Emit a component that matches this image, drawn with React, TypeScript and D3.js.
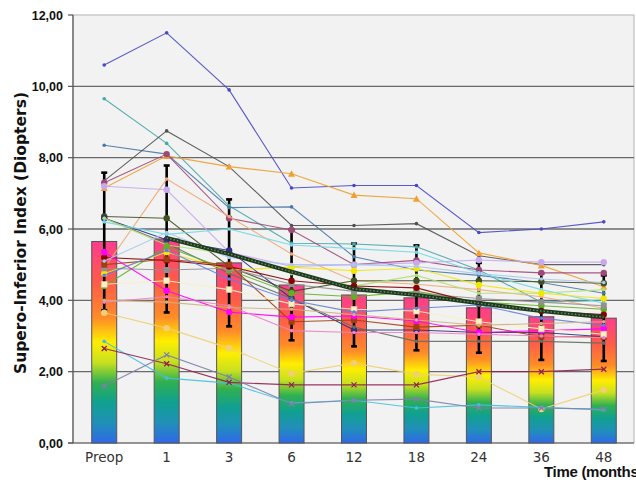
import React from "react";
import * as d3 from "d3";

const months = ["Preop", "1", "3", "6", "12", "18", "24", "36", "48"];
const meanValues = [5.65, 5.72, 5.05, 4.43, 4.15, 4.07, 3.79, 3.54, 3.5];
const sdValues = [1.93, 2.06, 1.78, 1.55, 1.44, 1.47, 1.26, 1.21, 1.2];
const trendValues = [null, 5.75, 5.3, 4.8, 4.32, 4.15, 3.92, 3.7, 3.53];
const yTicks = [0, 2, 4, 6, 8, 10, 12];

type Patient = { color: string; marker: string; values: number[] };

const patients: Patient[] = [
  { color: "#4848c8", marker: "dot", values: [10.6, 11.5, 9.9, 7.15, 7.22, 7.22, 5.9, 6.0, 6.2] },
  { color: "#48a8a8", marker: "dot", values: [9.65, 8.4, 6.65, 5.6, 5.58, 5.5, 4.85, 3.95, 4.0] },
  { color: "#4a78a8", marker: "dot", values: [8.35, 8.1, 6.6, 6.62, 5.22, 4.85, 4.7, 4.5, 4.2] },
  { color: "#505050", marker: "dot", values: [7.35, 8.75, 7.75, 6.1, 6.1, 6.15, 5.25, 5.0, 5.0] },
  { color: "#f0a030", marker: "tri", values: [7.15, 8.05, 7.75, 7.55, 6.95, 6.85, 5.33, 4.98, 4.38] },
  { color: "#a04878", marker: "circle", values: [7.3, 8.1, 6.3, 5.97, 5.0, 5.12, 4.85, 4.77, 4.77] },
  { color: "#c8a8f0", marker: "circle", values: [7.2, 7.1, 5.35, 4.95, 5.0, 5.05, 5.13, 5.07, 5.07] },
  { color: "#f0a878", marker: "dot", values: [4.9, 7.4, 6.35, 5.3, 4.55, 4.45, 4.3, 4.1, 3.78] },
  { color: "#405020", marker: "circle", values: [6.35, 6.3, 4.95, 4.25, 4.55, 4.55, 4.55, 4.52, 4.48] },
  { color: "#303080", marker: "circle", values: [6.3, 5.7, 5.4, 4.05, 3.17, 3.17, 3.1, 3.1, 2.98] },
  { color: "#607060", marker: "dot", values: [6.3, 5.6, 4.75, 4.05, 3.25, 2.85, 2.85, 2.85, 2.8] },
  { color: "#70d8e8", marker: "dot", values: [6.2, 5.85, 6.0, 5.55, 5.45, 5.35, 4.77, 4.3, 3.92] },
  { color: "#b0e070", marker: "dot", values: [6.3, 5.55, 5.3, 4.75, 4.4, 4.7, 4.2, 4.2, 4.3] },
  { color: "#f0e800", marker: "circle", values: [4.75, 5.35, 4.85, 4.93, 4.83, 4.9, 4.43, 4.2, 4.05] },
  { color: "#60b020", marker: "circle", values: [4.4, 5.5, 4.85, 4.2, 4.1, 4.25, 3.95, 3.85, 3.75] },
  { color: "#909090", marker: "square", values: [4.9, 4.85, 4.9, 4.45, 4.25, 4.2, 4.05, 3.95, 3.85] },
  { color: "#8b0000", marker: "circle", values: [5.2, 5.12, 4.95, 4.55, 4.4, 4.35, 3.9, 3.7, 3.6] },
  { color: "#a04010", marker: "square", values: [5.0, 5.15, 5.0, 3.4, 3.45, 3.25, 3.3, 2.98, 2.98] },
  { color: "#ff00ff", marker: "circle", values: [5.35, 4.27, 3.67, 3.53, 3.56, 3.42, 3.1, 3.15, 3.2] },
  { color: "#f8f0c0", marker: "square", values: [4.45, 4.55, 4.3, 3.9, 3.75, 3.7, 3.4, 3.2, 3.05] },
  { color: "#f080c8", marker: "dot", values: [3.95, 4.1, 3.85, 3.15, 3.1, 3.1, 3.05, 3.0, 2.95] },
  { color: "#6080e0", marker: "dot", values: [4.7, 5.4, 4.6, 4.0, 3.67, 3.78, 3.87, 3.5, 3.3] },
  { color: "#f0d070", marker: "circle", values: [3.65, 3.22, 2.66, 1.95, 2.24, 1.93, 1.85, 0.95, 1.49] },
  { color: "#40c0e0", marker: "dot", values: [2.85, 1.82, 1.68, 1.12, 1.2, 0.98, 1.07, 1.0, 0.93] },
  { color: "#902050", marker: "x", values: [2.65, 2.22, 1.7, 1.63, 1.63, 1.63, 2.0, 2.0, 2.07] },
  { color: "#8080a8", marker: "x", values: [1.6, 2.47, 1.85, 1.1, 1.2, 1.23, 0.98, 0.98, 0.95] },
  { color: "#a8c8f0", marker: "dot", values: [5.1, 5.9, 5.2, 5.0, 5.0, 4.95, 4.75, 4.6, 4.5] },
  { color: "#d0b080", marker: "dot", values: [4.0, 3.95, 3.8, 3.75, 3.6, 3.45, 3.3, 3.35, 3.4] },
];

const W = 636;
const H = 480;
const left = 73;
const right = 634;
const top = 15;
const bottom = 443;

export default function App() {
  const x = d3.scaleBand<string>().domain(months).range([left, right + 1]).paddingInner(0.6).paddingOuter(0.3);
  const y = d3.scaleLinear().domain([0, 12]).range([bottom, top]);
  const cx = (m: string) => (x(m) as number) + x.bandwidth() / 2;
  const line = d3
    .line<number>()
    .x((_, i) => cx(months[i]))
    .y((v) => y(v));
  const trendLine = d3
    .line<number | null>()
    .defined((v) => v !== null)
    .x((_, i) => cx(months[i]))
    .y((v) => y(v as number));

  const marker = (p: Patient, v: number, i: number) => {
    const px = cx(months[i]);
    const py = y(v);
    const key = `${i}`;
    if (p.marker === "square")
      return <rect key={key} x={px - 3} y={py - 3} width={6} height={6} fill={p.color} stroke={p.color === "#f8f0c0" ? "#c8c0a0" : "none"} strokeWidth={0.6} />;
    if (p.marker === "tri")
      return <path key={key} d={`M${px},${py - 3.5}L${px + 3.5},${py + 3}L${px - 3.5},${py + 3}Z`} fill={p.color} />;
    if (p.marker === "x")
      return (
        <g key={key} stroke={p.color} strokeWidth={1.3}>
          <line x1={px - 2.5} y1={py - 2.5} x2={px + 2.5} y2={py + 2.5} />
          <line x1={px - 2.5} y1={py + 2.5} x2={px + 2.5} y2={py - 2.5} />
        </g>
      );
    if (p.marker === "circle") return <circle key={key} cx={px} cy={py} r={3.2} fill={p.color} />;
    return <circle key={key} cx={px} cy={py} r={1.8} fill={p.color} />;
  };

  return (
    <svg width={W} height={H} style={{ position: "absolute", left: 0, top: 0, background: "#fff" }}>
      <defs>
        <linearGradient id="barGrad" x1="0" y1="0" x2="0" y2="1">
          <stop offset="0" stopColor="#ff3d8e" />
          <stop offset="0.2" stopColor="#ff5a4a" />
          <stop offset="0.38" stopColor="#ff8c28" />
          <stop offset="0.5" stopColor="#ffee00" />
          <stop offset="0.6" stopColor="#c8e020" />
          <stop offset="0.7" stopColor="#30b050" />
          <stop offset="0.8" stopColor="#10a090" />
          <stop offset="0.9" stopColor="#2090b8" />
          <stop offset="1" stopColor="#3068e8" />
        </linearGradient>
      </defs>
      <rect x={left} y={top} width={right - left} height={bottom - top} fill="#f2f2f2" stroke="#b4b4b4" strokeWidth={1} />
      {yTicks.slice(1, -1).map((t) => (
        <line key={t} x1={left} x2={right} y1={y(t)} y2={y(t)} stroke="#6a6a6a" strokeWidth={1.4} />
      ))}
      <line x1={left} x2={left} y1={top} y2={bottom} stroke="#555" strokeWidth={1.2} />
      <line x1={left - 5} x2={right} y1={bottom} y2={bottom} stroke="#555" strokeWidth={1.2} />
      {yTicks.map((t) => (
        <g key={t}>
          <line x1={left - 5} x2={left} y1={y(t)} y2={y(t)} stroke="#555" strokeWidth={1.2} />
          <text x={63} y={y(t) + 4.5} textAnchor="end" fontFamily="Liberation Sans, Arial, sans-serif" fontWeight="bold" fontSize={12.5} fill="#111">
            {t.toFixed(2).replace(".", ",")}
          </text>
        </g>
      ))}
      {months.map((m) => (
        <text key={m} x={cx(m)} y={462} textAnchor="middle" fontFamily="DejaVu Sans, sans-serif" fontSize={13.5} fill="#333">
          {m}
        </text>
      ))}
      <text x={544} y={477} fontFamily="Liberation Sans, Arial, sans-serif" fontWeight="bold" fontSize={15} letterSpacing={-0.3} fill="#111">
        Time (months)
      </text>
      <text transform={`translate(26,233) rotate(-90)`} textAnchor="middle" fontFamily="DejaVu Sans, sans-serif" fontWeight="bold" fontSize={15.5} fill="#111">
        Supero-Inferior Index (Diopters)
      </text>
      {months.map((m, i) => (
        <rect key={m} x={x(m)} y={y(meanValues[i])} width={x.bandwidth()} height={bottom - y(meanValues[i])} fill="url(#barGrad)" stroke="#555" strokeWidth={1} />
      ))}
      {months.map((m, i) => {
        const hi = y(meanValues[i] + sdValues[i]);
        const lo = y(meanValues[i] - sdValues[i]);
        const c = cx(m);
        return (
          <g key={m} stroke="#000" strokeWidth={2.6}>
            <line x1={c} x2={c} y1={hi} y2={lo} />
            <line x1={c - 3} x2={c + 3} y1={hi} y2={hi} />
            <line x1={c - 3} x2={c + 3} y1={lo} y2={lo} />
          </g>
        );
      })}
      {patients.map((p, k) => (
        <g key={k}>
          <path d={line(p.values) as string} fill="none" stroke={p.color} strokeWidth={1.1} opacity={0.9} />
          {p.values.map((v, i) => marker(p, v, i))}
        </g>
      ))}
      <path d={trendLine(trendValues) as string} fill="none" stroke="#1e3a1e" strokeWidth={4.2} />
      <path d={trendLine(trendValues) as string} fill="none" stroke="#6a8a60" strokeWidth={1.4} strokeDasharray="1.5 2" />
    </svg>
  );
}
